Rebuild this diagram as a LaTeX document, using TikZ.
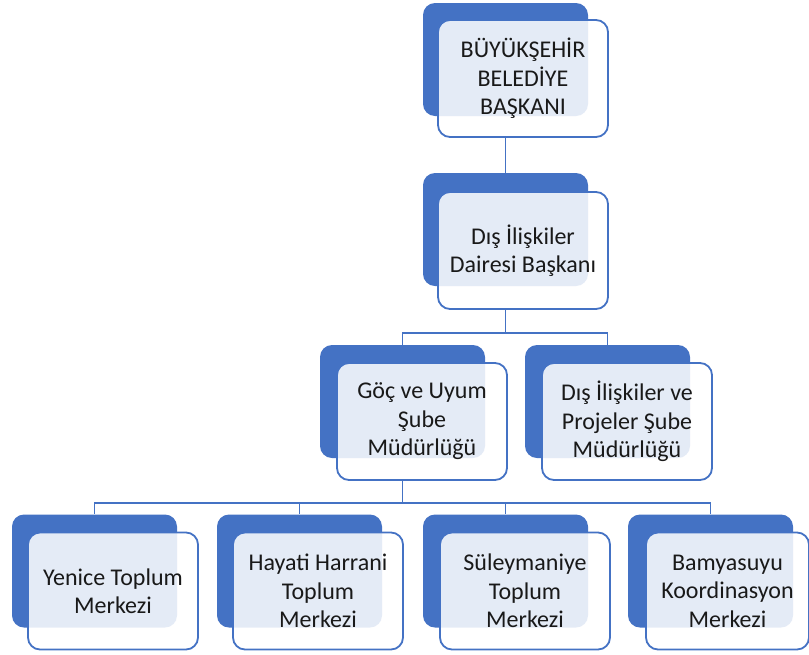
\documentclass[tikz,border=0pt]{standalone}
\usepackage{fontspec}
\setmainfont{Carlito}
\usepackage{tikz}
\usetikzlibrary{positioning}
\definecolor{ofisblue}{HTML}{4472C4}

\begin{document}
\begin{tikzpicture}[x=1pt, y=-1pt, thick,
    backbox/.style={fill=ofisblue, rounded corners=12pt, minimum width=165pt, minimum height=113pt, inner sep=0pt},
    frontbox/.style={draw=ofisblue, line width=1.8pt, fill=white, fill opacity=0.86, text opacity=1,
        rounded corners=12pt, minimum width=170pt, minimum height=117pt, inner sep=0pt,
        align=center, text=black!90, font=\fontsize{24}{28.5}\selectfont},
    link/.style={draw=ofisblue, line width=1.6pt}]
    \useasboundingbox (0,0) rectangle (809,654);

    % ust kademe
    \node[backbox] (baskanb) at (505.5,59.5) {};
    \node[frontbox] (baskan) at (523,78.5) {BÜYÜKŞEHİR\\BELEDİYE\\BAŞKANI};
    \node[backbox] (daireb) at (505.5,229.5) {};
    \node[frontbox] (daire) at (523,250.5) {Dış İlişkiler\\Dairesi Başkanı};

    % sube mudurlukleri
    \node[backbox] (gocb) at (402.5,401.5) {};
    \node[frontbox] (goc) at (422,421.5) {Göç ve Uyum\\Şube\\Müdürlüğü};
    \node[backbox] (projeb) at (607.5,401.5) {};
    \node[frontbox] (proje) at (627,421.5) {Dış İlişkiler ve\\Projeler Şube\\Müdürlüğü};

    % merkezler
    \node[backbox] (yeniceb) at (94.5,571) {};
    \node[frontbox] (yenice) at (113,591) {Yenice Toplum\\Merkezi};
    \node[backbox] (hayatib) at (299.5,571) {};
    \node[frontbox] (hayati) at (318,591) {Hayati Harrani\\Toplum\\Merkezi};
    \node[backbox] (suleyb) at (505.5,571) {};
    \node[frontbox] (suley) at (525,591) {Süleymaniye\\Toplum\\Merkezi};
    \node[backbox] (bamyab) at (710.5,571) {};
    \node[frontbox, minimum width=163pt] (bamya) at (727.5,591) {Bamyasuyu\\Koordinasyon\\Merkezi};

    \coordinate (catal1) at (505.5,333);
    \coordinate (catal2) at (402.5,503);

    \draw[link] (baskanb.south |- baskan.south) -- (daireb.north);
    \draw[link] (daireb.south |- daire.south) -- (catal1);
    \draw[link] (gocb.north) |- (catal1) -| (projeb.north);
    \draw[link] (gocb.south |- goc.south) -- (catal2);
    \draw[link] (yeniceb.north) |- (catal2) -| (bamyab.north);
    \draw[link] (hayatib.north) -- (hayatib.north |- catal2);
    \draw[link] (suleyb.north) -- (suleyb.north |- catal2);
\end{tikzpicture}
\end{document}
